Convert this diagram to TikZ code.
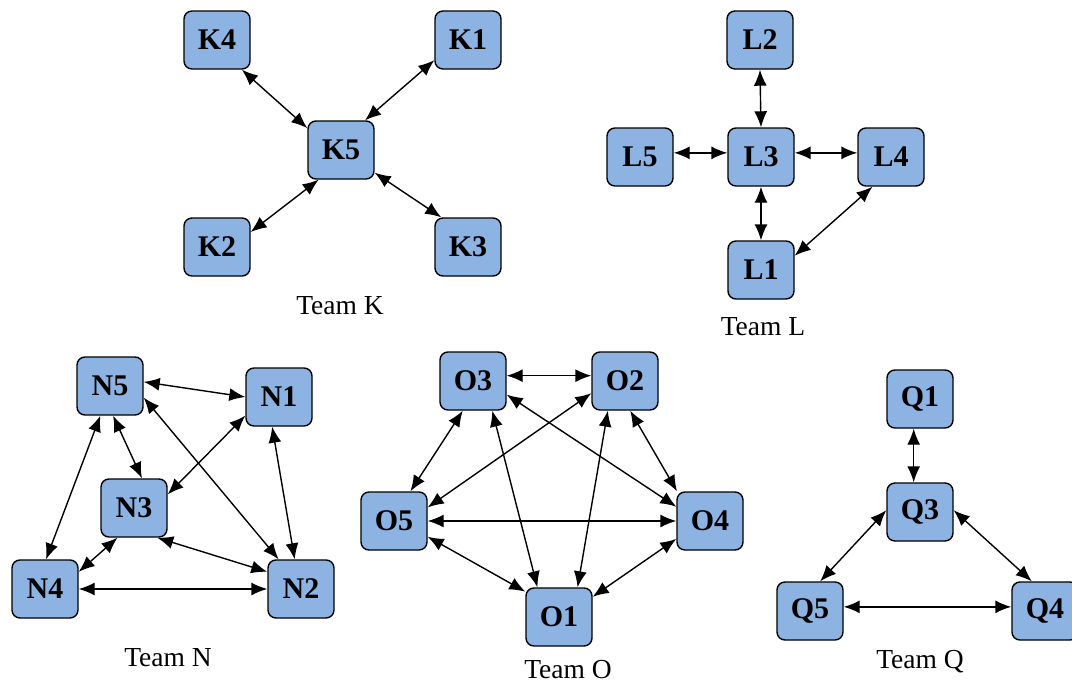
\documentclass[tikz,border=0pt]{standalone}
\usepackage{fontspec}
\setmainfont{Liberation Serif}
\usetikzlibrary{arrows.meta}

\definecolor{boxblue}{RGB}{141,179,226}

\tikzset{
  member/.style={draw=black, line width=1.4pt, fill=boxblue, rounded corners=8pt,
    minimum width=66pt, minimum height=58pt, inner sep=0pt,
    font=\fontsize{30}{32}\selectfont\bfseries},
  link/.style={line width=1.4pt,
    arrows={Latex[length=16pt,width=13pt]-Latex[length=16pt,width=13pt]}},
  caption/.style={font=\fontsize{27.5}{30}\selectfont, inner sep=0pt}
}

\begin{document}
\begin{tikzpicture}[x=1pt,y=-1pt]
\useasboundingbox (0,0) rectangle (1072,683);
\clip (0,0) rectangle (1072,683);

% ---- Team K: star around K5
\node[member] (K4) at (217,40)  {K4};
\node[member] (K1) at (468,40)  {K1};
\node[member] (K5) at (341,150) {K5};
\node[member] (K2) at (217,247) {K2};
\node[member] (K3) at (468,247) {K3};
\node[caption] (TK) at (340,306) {Team K};
\draw[link] (K4.-50)  -- (K5.147);
\draw[link] (K1.-149) -- (K5.51);
\draw[link] (K2.24)   -- (K5.-127);
\draw[link] (K3.132)  -- (K5.-34);

% ---- Team L: cross around L3
\node[member] (L2) at (760,40)  {L2};
\node[member] (L5) at (640,157) {L5};
\node[member] (L3) at (761,157) {L3};
\node[member] (L4) at (891,157) {L4};
\node[member] (L1) at (761,270) {L1};
\node[caption] (TL) at (763,327) {Team L};
\draw[link] (L2.south) -- (L3.north);
\draw[link] (L5.7)  -- (L3.173);
\draw[link] (L3.7)  -- (L4.173);
\draw[link] (L3.south) -- (L1.north);
\draw[link] (L4.-122) -- (L1.23);

% ---- Team N
\node[member] (N5) at (110,386) {N5};
\node[member] (N1) at (279,397) {N1};
\node[member] (N3) at (134,508) {N3};
\node[member] (N4) at (45,589)  {N4};
\node[member] (N2) at (301,589) {N2};
\node[caption] (TN) at (168,658) {Team N};
\draw[link] (N5.7)    -- (N1.180);
\draw[link] (N5.-19)  -- (N2.127);
\draw[link] (N5.-84)  -- (N3.75);
\draw[link] (N5.-108) -- (N4.88);
\draw[link] (N1.-151) -- (N3.22);
\draw[link] (N1.-103) -- (N2.102);
\draw[link] (N3.-119) -- (N4.27);
\draw[link] (N3.-52)  -- (N2.153);
\draw[link] (N4.east) -- (N2.west);

% ---- Team O: complete graph on five members
\node[member] (O3) at (473,381) {O3};
\node[member] (O2) at (625,381) {O2};
\node[member] (O5) at (394,521) {O5};
\node[member] (O4) at (710,521) {O4};
\node[member] (O1) at (559,617) {O1};
\node[caption] (TO) at (568,670) {Team O};
\draw[link] (O3.9)    -- (O2.171);
\draw[link] (O3.-109) -- (O5.61);
\draw[link] (O3.-57)  -- (O1.126);
\draw[link] (O3.-22)  -- (O4.157);
\draw[link] (O2.-160) -- (O5.22);
\draw[link] (O2.-120) -- (O1.58);
\draw[link] (O2.-80)  -- (O4.138);
\draw[link] (O5.east) -- (O4.west);
\draw[link] (O5.-25)  -- (O1.143);
\draw[link] (O4.-152) -- (O1.31);

% ---- Team Q
\node[member] (Q1) at (920,399)  {Q1};
\node[member] (Q3) at (920,512)  {Q3};
\node[member] (Q5) at (810,611)  {Q5};
\node[member] (Q4) at (1045,611) {Q4};
\node[caption] (TQ) at (920,662) {Team Q};
\draw[link] (Q1.-102) -- (Q3.102);
\draw[link] (Q3.177)  -- (Q5.71);
\draw[link] (Q3.3)    -- (Q4.114);
\draw[link] (Q5.7)    -- (Q4.173);
\end{tikzpicture}
\end{document}
